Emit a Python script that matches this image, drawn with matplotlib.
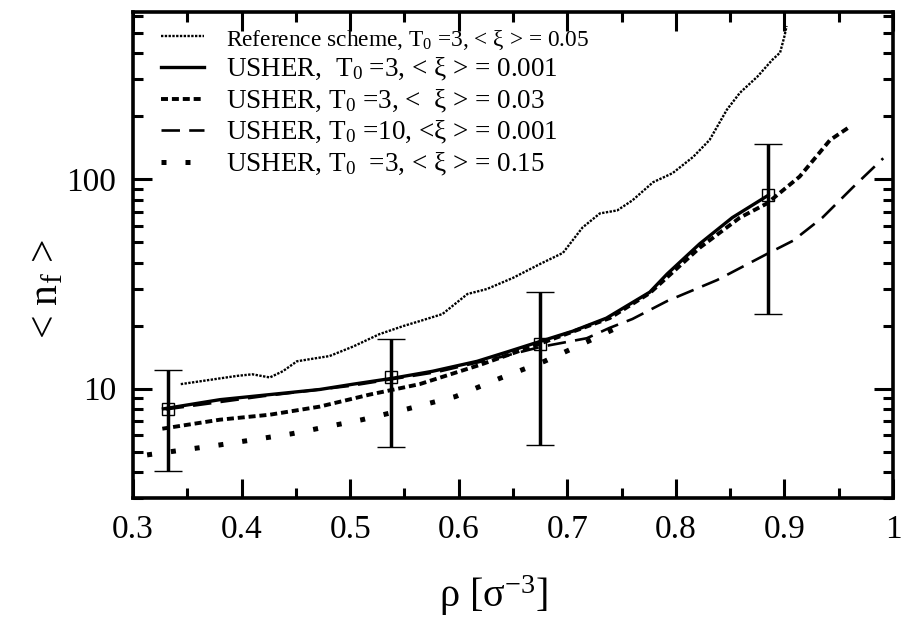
import numpy as np
import matplotlib
matplotlib.use('Agg')
import matplotlib.pyplot as plt
from matplotlib.ticker import FixedLocator, MultipleLocator, FuncFormatter, LogLocator, NullFormatter

plt.rcParams['font.family'] = ['Liberation Serif', 'DejaVu Serif']
plt.rcParams['mathtext.fontset'] = 'custom'
plt.rcParams['mathtext.rm'] = 'Liberation Serif'
plt.rcParams['mathtext.it'] = 'Liberation Serif:italic'

# reference scheme, T0=3, <xi>=0.05
ref_x = [0.344, 0.396, 0.410, 0.426, 0.438, 0.451, 0.466, 0.481, 0.503, 0.527, 0.549,
         0.564, 0.585, 0.608, 0.626, 0.650, 0.675, 0.696, 0.714, 0.730, 0.746, 0.760,
         0.779, 0.797, 0.816, 0.831, 0.847, 0.859, 0.875, 0.889, 0.896, 0.900, 0.902]
ref_y = [10.5, 11.5, 11.7, 11.3, 12.1, 13.5, 13.9, 14.3, 15.9, 18.2, 19.9,
         21.0, 22.7, 28.3, 29.9, 33.8, 39.4, 44.5, 58.8, 68.7, 71.0, 79.3,
         96.8, 107, 128, 154, 215, 259, 309, 373, 403, 482, 540]

# USHER T0=3, <xi>=0.001 (solid)
s1_x = [0.328, 0.380, 0.426, 0.472, 0.503, 0.539, 0.576, 0.617, 0.647, 0.675,
        0.705, 0.736, 0.776, 0.792, 0.822, 0.852, 0.885]
s1_y = [8.0, 8.85, 9.36, 9.9, 10.5, 11.2, 12.1, 13.5, 15.1, 16.8,
        18.8, 21.7, 28.9, 35.3, 49.2, 65.6, 83.8]

# USHER T0=3, <xi>=0.03 (dense dots)
s2_x = [0.327, 0.380, 0.426, 0.472, 0.518, 0.564, 0.620, 0.675, 0.739, 0.776,
        0.822, 0.859, 0.884, 0.914, 0.942, 0.960]
s2_y = [6.43, 7.1, 7.5, 8.2, 9.36, 10.5, 13.0, 16.4, 21.7, 28.6,
        47.1, 65.6, 76.7, 103, 154, 178]

# USHER T0=10, <xi>=0.001 (dashed)
s3_x = [0.33, 0.42, 0.50, 0.58, 0.64, 0.675, 0.718, 0.739, 0.760, 0.792, 0.838,
        0.884, 0.908, 0.935, 0.963, 0.991]
s3_y = [7.95, 9.2, 10.3, 12.0, 14.2, 15.8, 17.4, 19.5, 21.5, 26.2, 33.0,
        44.0, 50.9, 65.6, 91.5, 126]

# USHER T0=3, <xi>=0.15 (loose dots)
s4_x = [0.313, 0.380, 0.446, 0.511, 0.553, 0.597, 0.638, 0.679, 0.719, 0.750]
s4_y = [4.82, 5.38, 6.08, 7.1, 8.0, 9.16, 11.2, 13.5, 16.8, 20.0]

# error bars
eb_x = [0.332, 0.538, 0.675, 0.885]
eb_y = [8.0, 11.4, 16.3, 83.8]
eb_lo = [4.04, 5.26, 5.38, 22.7]
eb_hi = [12.3, 17.2, 28.9, 147]

labels = ['Reference scheme, $\\mathrm{T}_0$ =3, < ξ > = 0.05',
          'USHER,  $\\mathrm{T}_0$ =3, < ξ > = 0.001',
          'USHER, $\\mathrm{T}_0$ =3, <  ξ > = 0.03',
          'USHER, $\\mathrm{T}_0$ =10, <ξ > = 0.001',
          'USHER, $\\mathrm{T}_0$  =3, < ξ > = 0.15']

fig = plt.figure(figsize=(9.03, 6.23), dpi=100)
ax = fig.add_axes([133/903, 125/623, 760/903, 486/623])

ax.plot(ref_x, ref_y, color='k', lw=1.7, ls=(0, (1, 0.6)), label=labels[0])
ax.plot(s1_x, s1_y, color='k', lw=2.4, ls='-', label=labels[1])
ax.plot(s2_x, s2_y, color='k', lw=2.8, ls=(0, (1.8, 1.0)), label=labels[2], dash_capstyle='butt')
ax.plot(s3_x, s3_y, color='k', lw=1.9, ls=(0, (7, 3.5)), label=labels[3])
ax.plot(s4_x, s4_y, color='k', lw=3.6, ls=(0, (1, 3.8)), label=labels[4])

yerr = [np.array(eb_y) - np.array(eb_lo), np.array(eb_hi) - np.array(eb_y)]
ax.errorbar(eb_x, eb_y, yerr=yerr, fmt='s', mfc='none', mec='k', ms=8.5, mew=1.0,
            ecolor='k', elinewidth=2.5, capsize=10, capthick=2.5)

ax.set_yscale('log')
ax.set_xlim(0.3, 1.0)
ax.set_ylim(3, 630)

ax.xaxis.set_major_locator(MultipleLocator(0.1))
ax.xaxis.set_minor_locator(MultipleLocator(0.05))
ax.xaxis.set_major_formatter(FuncFormatter(lambda v, p: '%g' % round(v, 2)))
ax.yaxis.set_major_locator(FixedLocator([10, 100]))
ax.yaxis.set_minor_locator(LogLocator(base=10, subs=np.arange(2, 10)))
ax.yaxis.set_major_formatter(FuncFormatter(lambda v, p: '%d' % v))
ax.yaxis.set_minor_formatter(NullFormatter())

ax.tick_params(which='both', direction='in', top=True, right=True, width=2.2, colors='k')
ax.tick_params(which='major', length=14, labelsize=24, pad=12)
ax.tick_params(which='minor', length=7)
for sp in ax.spines.values():
    sp.set_linewidth(2.6)

ax.set_xlabel('ρ [σ$^{-3}$]', fontsize=29)
ax.set_ylabel('< n$_\\mathrm{f}$ >', fontsize=30)
ax.xaxis.set_label_coords(0.474, -0.155)
ax.yaxis.set_label_coords(-0.088, 0.43)

leg = ax.legend(loc='upper left', bbox_to_anchor=(28/760, 1 - 15/486), frameon=False,
                fontsize=19.5, handlelength=1.6, handletextpad=0.8, labelspacing=0.16,
                borderpad=0, borderaxespad=0)
leg.get_texts()[0].set_fontsize(16.8)

fig.savefig('out.png', dpi=100)
